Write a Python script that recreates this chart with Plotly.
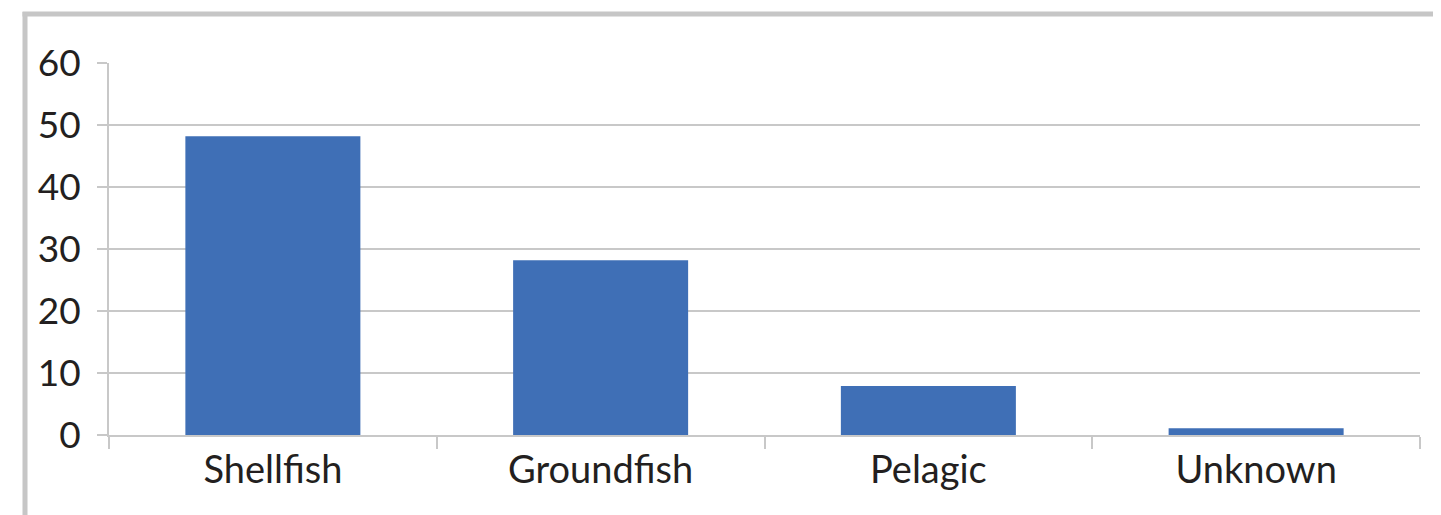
import plotly.graph_objects as go

categories = ["Shellfish", "Groundfish", "Pelagic", "Unknown"]
values = [48.2, 28.2, 7.9, 1.1]
y_ticks = [0, 10, 20, 30, 40, 50, 60]

OFF = 8  # page body margin
W, H = 1441 - OFF, 515 - OFF
L, R, T, B = 109 - OFF, 21, 63 - OFF, 80
pw, ph = W - L - R, H - T - B

def px_x(x):
    return (x - OFF - L) / pw

def px_y(y):
    return (H - B - (y - OFF)) / ph

GRID = "#c8c8c8"
FONT = "Lato"

fig = go.Figure(go.Bar(
    x=categories, y=values,
    marker=dict(color="#3f6fb6", line=dict(width=0)),
    width=0.534,
))

fig.update_layout(
    width=W, height=H,
    margin=dict(l=L, r=R, t=T, b=B, pad=0),
    paper_bgcolor="white", plot_bgcolor="white",
    showlegend=False,
    font=dict(family=FONT, size=38, color="#231f20"),
    xaxis=dict(
        type="category",
        showgrid=False,
        showline=True, linecolor=GRID, linewidth=2,
        ticks="outside", tickson="boundaries", ticklen=12, tickwidth=2, tickcolor=GRID,
        tickfont=dict(size=38),
        zeroline=False,
    ),
    yaxis=dict(
        range=[0, 60],
        tickvals=y_ticks,
        showgrid=True, gridcolor=GRID, gridwidth=2,
        showline=True, linecolor=GRID, linewidth=2,
        ticks="outside", ticklen=10, tickwidth=2, tickcolor=GRID,
        tickfont=dict(size=37),
        ticklabelstandoff=9,
        zeroline=False,
    ),
    shapes=[
        dict(type="line", xref="paper", yref="paper",
             x0=px_x(25), x1=px_x(25), y0=px_y(12), y1=px_y(520),
             line=dict(color="#c6c6c6", width=5), layer="above"),
        dict(type="line", xref="paper", yref="paper",
             x0=px_x(22.5), x1=px_x(1450), y0=px_y(14), y1=px_y(14),
             line=dict(color="#c6c6c6", width=5), layer="above"),
    ],
)

fig.write_html("out.html")
